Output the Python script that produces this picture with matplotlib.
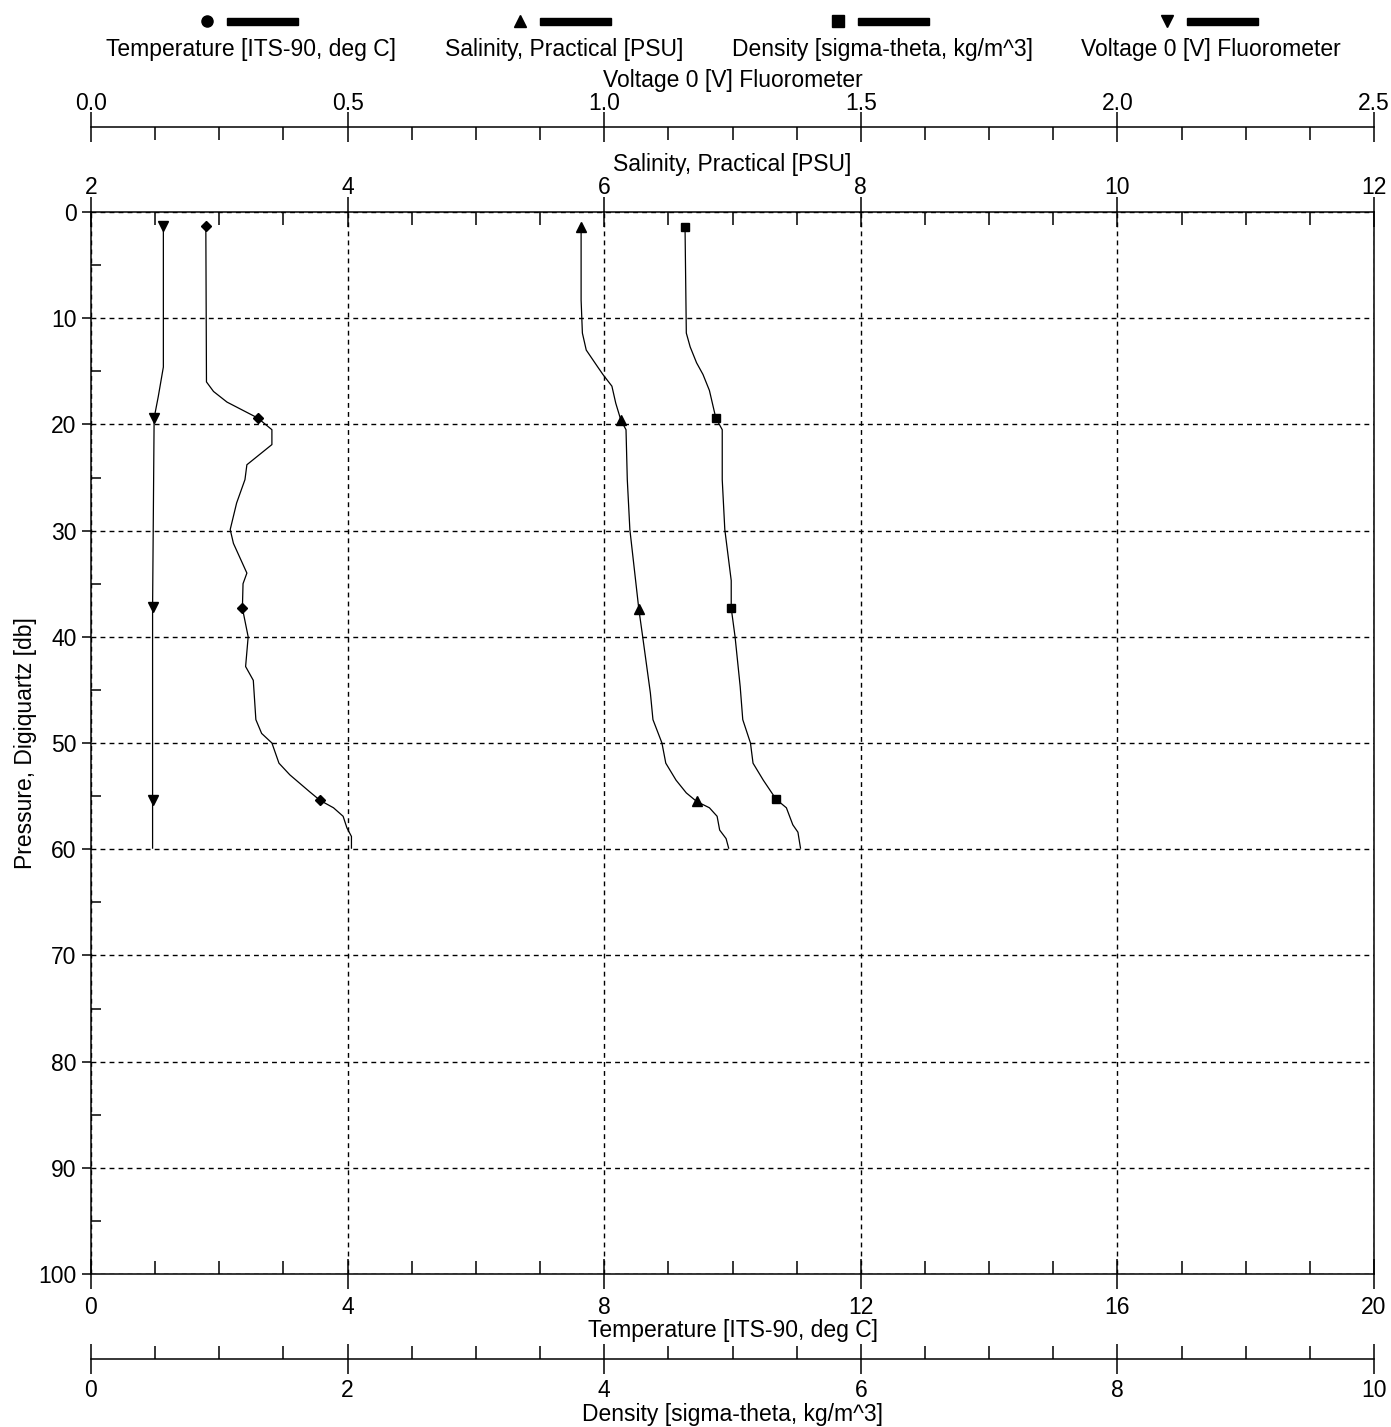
import matplotlib.pyplot as plt
import numpy as np
from matplotlib.lines import Line2D
from matplotlib.patches import Rectangle
from matplotlib.offsetbox import DrawingArea, TextArea, VPacker, HPacker, AnchoredOffsetbox
from matplotlib.ticker import MultipleLocator, FormatStrFormatter

plt.rcParams['font.family'] = ['Liberation Sans', 'DejaVu Sans']
plt.rcParams['font.size'] = 16.5

# profiles: pressure [db] and value
temp_p = [1.3, 16.0, 16.9, 17.9, 19.4, 20.5, 21.9, 23.8, 25.2, 27.4, 29.9, 31.2, 34.0, 35.0,
          37.3, 40.0, 42.8, 44.1, 47.8, 49.1, 50.0, 51.9, 53.0, 54.6, 55.4, 56.1, 56.9, 58.0,
          58.8, 59.9]
temp_v = [1.79, 1.80, 1.91, 2.12, 2.60, 2.82, 2.82, 2.43, 2.40, 2.27, 2.17, 2.22, 2.43, 2.37,
          2.36, 2.45, 2.41, 2.53, 2.57, 2.66, 2.82, 2.93, 3.10, 3.41, 3.57, 3.78, 3.93, 3.99,
          4.06, 4.06]

sal_p = [1.4, 8.3, 11.4, 13.0, 14.6, 15.3, 16.4, 18.0, 19.6, 20.5, 25.2, 29.9, 37.4, 40.0,
         45.3, 47.8, 50.0, 51.9, 53.5, 54.7, 55.5, 56.1, 56.9, 58.2, 59.0, 59.9]
sal_v = [5.82, 5.82, 5.83, 5.86, 5.95, 5.99, 6.06, 6.09, 6.13, 6.17, 6.18, 6.20, 6.27, 6.30,
         6.36, 6.38, 6.45, 6.48, 6.56, 6.64, 6.72, 6.82, 6.88, 6.90, 6.95, 6.97]

dens_p = [1.4, 11.4, 12.7, 14.2, 15.3, 16.8, 19.4, 20.5, 25.2, 29.9, 34.7, 37.3, 40.0, 44.7,
          47.8, 50.0, 51.9, 53.5, 55.3, 56.1, 57.7, 58.4, 59.9]
dens_v = [4.63, 4.64, 4.67, 4.72, 4.77, 4.82, 4.87, 4.92, 4.92, 4.94, 4.99, 4.99, 5.02, 5.06,
          5.08, 5.14, 5.16, 5.24, 5.34, 5.42, 5.47, 5.51, 5.53]

fluor_p = [1.3, 14.6, 17.4, 19.4, 37.2, 55.4, 59.9]
fluor_v = [0.141, 0.141, 0.131, 0.123, 0.120, 0.120, 0.120]

# depths where the symbols sit
marker_p = [1.3, 19.4, 37.3, 55.4]


def mark_idx(p):
    p = np.asarray(p)
    return [int(np.argmin(abs(p - m))) for m in marker_p]


fig = plt.figure(figsize=(13.91, 14.27), dpi=100)
fig.subplots_adjust(left=91/1391, right=1374/1391, bottom=1 - 1274/1427, top=1 - 212/1427)
ax = fig.add_subplot(111)

line_kw = dict(color='black', lw=0.9, mfc='black', mec='black')
ax.plot(temp_v, temp_p, marker='D', ms=5, markevery=mark_idx(temp_p), **line_kw)
ax_s = ax.twiny()
ax_s.plot(sal_v, sal_p, marker='^', ms=7, markevery=mark_idx(sal_p), **line_kw)
ax_d = ax.twiny()
ax_d.plot(dens_v, dens_p, marker='s', ms=6, markevery=mark_idx(dens_p), **line_kw)
ax_v = ax.twiny()
ax_v.plot(fluor_v, fluor_p, marker='v', ms=7, markevery=mark_idx(fluor_p), **line_kw)

ax.set_ylim(100, 0)
ax.set_xlim(0, 20)
ax_s.set_xlim(2, 12)
ax_d.set_xlim(0, 10)
ax_v.set_xlim(0, 2.5)

# spines
for a in (ax_s, ax_d, ax_v):
    for sp in a.spines.values():
        sp.set_visible(False)
ax.spines['top'].set_visible(False)
ax_s.spines['top'].set_visible(True)
ax_v.spines['top'].set_visible(True)
ax_v.spines['top'].set_position(('outward', 61))
ax_d.xaxis.set_ticks_position('bottom')
ax_d.xaxis.set_label_position('bottom')
ax_d.spines['bottom'].set_visible(True)
ax_d.spines['bottom'].set_position(('outward', 61))
for a in (ax, ax_s, ax_d, ax_v):
    for sp in a.spines.values():
        sp.set_linewidth(1.1)

# ticks
for a, maj, mnr in ((ax, 4, 1), (ax_s, 2, 0.5), (ax_d, 2, 0.5), (ax_v, 0.5, 0.125)):
    a.xaxis.set_major_locator(MultipleLocator(maj))
    a.xaxis.set_minor_locator(MultipleLocator(mnr))
    a.tick_params(axis='x', which='major', direction='inout', length=21, width=1.1)
    a.tick_params(axis='x', which='minor', direction='in', length=9.5, width=1.1)
ax_v.xaxis.set_major_formatter(FormatStrFormatter('%.1f'))
ax.tick_params(axis='x', which='major', pad=5)
ax_d.tick_params(axis='x', which='major', pad=4)
ax_s.tick_params(axis='x', which='major', pad=-1.5)
ax_v.tick_params(axis='x', which='major', pad=-1.5)

ax.yaxis.set_major_locator(MultipleLocator(10))
ax.yaxis.set_minor_locator(MultipleLocator(5))
ax.tick_params(axis='y', which='major', direction='out', length=6.5, width=1.1, pad=4)
ax.tick_params(axis='y', which='minor', direction='in', length=7.2, width=1.1)

ax.grid(True, which='major', color='black', lw=1.0, ls=(0, (3.5, 3)))

# axis titles
ax.set_xlabel('Temperature [ITS-90, deg C]')
ax.xaxis.set_label_coords(0.5, -0.0535)
ax_d.set_xlabel('Density [sigma-theta, kg/m^3]')
ax_d.xaxis.set_label_coords(0.5, -0.1325)
ax_s.set_xlabel('Salinity, Practical [PSU]')
ax_s.xaxis.set_label_coords(0.5, 1.0445)
ax_v.set_xlabel('Voltage 0 [V] Fluorometer')
ax_v.xaxis.set_label_coords(0.5, 1.1235)
for a in (ax, ax_d, ax_s, ax_v):
    a.xaxis.label.set_va('center')
ax.set_ylabel('Pressure, Digiquartz [db]')
ax.yaxis.set_label_coords(-0.0514, 0.5)
ax.yaxis.label.set_va('center')

# legend: symbol + bar with the name underneath
entries = [('o', 'Temperature [ITS-90, deg C]'),
           ('^', 'Salinity, Practical [PSU]'),
           ('s', 'Density [sigma-theta, kg/m^3]'),
           ('v', 'Voltage 0 [V] Fluorometer')]
boxes = []
for m, lab in entries:
    da = DrawingArea(72, 9)
    da.add_artist(Line2D([4.3], [4.5], marker=m, ms=8, color='black', ls='none'))
    da.add_artist(Rectangle((18.7, 2), 51, 5, color='black'))
    ta = TextArea(lab, textprops=dict(fontsize=16.5))
    boxes.append(VPacker(children=[da, ta], align='center', pad=0, sep=7.5))
row = HPacker(children=boxes, align='top', pad=0, sep=35)
fig.add_artist(AnchoredOffsetbox(loc='upper left', child=row, pad=0, borderpad=0, frameon=False,
                                 bbox_to_anchor=(106/1391, 1 - 15/1427),
                                 bbox_transform=fig.transFigure))

fig.savefig('out.png', dpi=100)
